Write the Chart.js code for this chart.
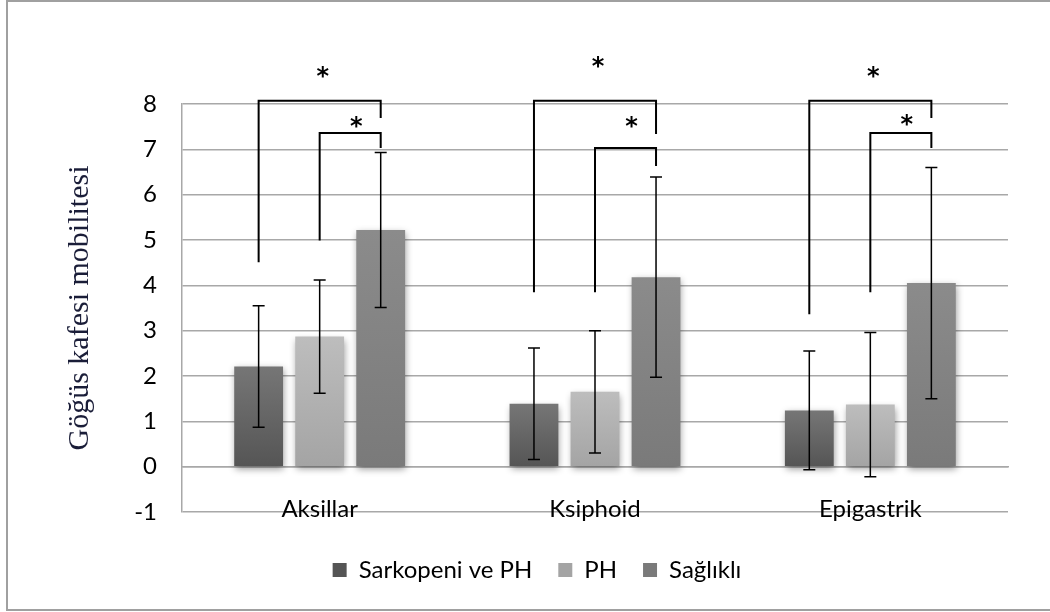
<!DOCTYPE html>
<html><head><meta charset="utf-8">
<script src="https://cdn.jsdelivr.net/npm/chart.js@4.4.1/dist/chart.umd.min.js"></script>
<style>html,body{margin:0;padding:0;background:#fff}canvas{display:block}</style>
</head><body>
<canvas id="c" width="1050" height="612"></canvas>
<script>
const categories = ['Aksillar', 'Ksiphoid', 'Epigastrik'];
const seriesNames = ['Sarkopeni ve PH', 'PH', 'Sağlıklı'];
const sarkopeni = [2.21, 1.39, 1.24];
const ph = [2.87, 1.65, 1.37];
const saglikli = [5.22, 4.18, 4.05];
const sarkopeniErr = [1.34, 1.23, 1.31];
const phErr = [1.25, 1.35, 1.59];
const saglikliErr = [1.71, 2.21, 2.55];
const yMin = -1, yMax = 8, yStep = 1;
const yTitle = 'Göğüs kafesi mobilitesi';
// significance brackets (values on the y scale)
const outerStart = [4.51, 3.85, 3.36];
const outerTop = [8.07, 8.07, 8.07];
const outerEnd = [7.69, 7.34, 7.69];
const outerStar = [8.7, 8.9, 8.68];
const innerStart = [4.99, 3.85, 3.85];
const innerTop = [7.36, 7.03, 7.36];
const innerEnd = [7.03, 6.63, 7.03];
const innerStar = [7.58, 7.58, 7.62];
const starText = '*';

const FONT = 'Lato';
const GRID = '#a8a8a8';

function grad(top, bottom, solid) {
  return (c) => {
    const chart = c.chart;
    const ys = chart.scales && chart.scales.y;
    if (c.type !== 'data' || !ys || !c.parsed) return solid;
    const y0 = ys.getPixelForValue(0), y1 = ys.getPixelForValue(c.parsed.y);
    if (!isFinite(y0) || !isFinite(y1) || y0 === y1) return solid;
    const g = chart.ctx.createLinearGradient(0, y1, 0, y0);
    g.addColorStop(0, top);
    g.addColorStop(1, bottom);
    return g;
  };
}

const frame = {
  id: 'frame',
  beforeDraw(chart) {
    const ctx = chart.ctx;
    ctx.save();
    ctx.fillStyle = '#fff';
    ctx.fillRect(0, 0, chart.width, chart.height);
    ctx.strokeStyle = '#a0a0a0';
    ctx.lineWidth = 2;
    ctx.beginPath();
    ctx.moveTo(chart.width, 1); ctx.lineTo(7, 1); ctx.lineTo(7, 610); ctx.lineTo(chart.width, 610);
    ctx.stroke();
    ctx.restore();
  }
};

const shadow = {
  id: 'shadow',
  beforeDatasetsDraw(chart) {
    const ctx = chart.ctx;
    ctx.save();
    ctx.shadowColor = 'rgba(0,0,0,0.4)';
    ctx.shadowBlur = 7;
    ctx.shadowOffsetX = 1;
    ctx.shadowOffsetY = 3;
  },
  afterDatasetsDraw(chart) {
    chart.ctx.restore();
  }
};

const overlay = {
  id: 'overlay',
  afterDatasetsDraw(chart) {
    const ctx = chart.ctx, ys = chart.scales.y;
    const errs = [sarkopeniErr, phErr, saglikliErr];
    ctx.save();
    ctx.strokeStyle = '#000';
    ctx.lineWidth = 1.5;
    errs.forEach((err, d) => {
      const meta = chart.getDatasetMeta(d);
      meta.data.forEach((bar, i) => {
        const v = chart.data.datasets[d].data[i];
        const x = bar.x;
        const yl = ys.getPixelForValue(v - err[i]);
        const yh = ys.getPixelForValue(v + err[i]);
        ctx.beginPath();
        ctx.moveTo(x, yl); ctx.lineTo(x, yh);
        ctx.moveTo(x - 6, yl); ctx.lineTo(x + 6, yl);
        ctx.moveTo(x - 6, yh); ctx.lineTo(x + 6, yh);
        ctx.stroke();
      });
    });
    const m0 = chart.getDatasetMeta(0).data, m1 = chart.getDatasetMeta(1).data, m2 = chart.getDatasetMeta(2).data;
    ctx.lineWidth = 2;
    ctx.lineJoin = 'miter';
    ctx.fillStyle = '#000';
    ctx.font = 'bold 24px "DejaVu Sans"';
    ctx.textAlign = 'center';
    ctx.textBaseline = 'middle';
    categories.forEach((c, i) => {
      const x0 = m0[i].x, x1 = m1[i].x, x2 = m2[i].x;
      ctx.beginPath();
      ctx.moveTo(x0, ys.getPixelForValue(outerStart[i]));
      ctx.lineTo(x0, ys.getPixelForValue(outerTop[i]));
      ctx.lineTo(x2, ys.getPixelForValue(outerTop[i]));
      ctx.lineTo(x2, ys.getPixelForValue(outerEnd[i]));
      ctx.moveTo(x1, ys.getPixelForValue(innerStart[i]));
      ctx.lineTo(x1, ys.getPixelForValue(innerTop[i]));
      ctx.lineTo(x2, ys.getPixelForValue(innerTop[i]));
      ctx.lineTo(x2, ys.getPixelForValue(innerEnd[i]));
      ctx.stroke();
      ctx.fillText(starText, (x0 + x2) / 2 + 3, ys.getPixelForValue(outerStar[i]) + 5);
      ctx.fillText(starText, (x1 + x2) / 2 + 6, ys.getPixelForValue(innerStar[i]) + 5);
    });
    ctx.restore();
  }
};

new Chart(document.getElementById('c'), {
  type: 'bar',
  data: {
    labels: categories,
    datasets: [
      { label: seriesNames[0], data: sarkopeni, backgroundColor: grad('#767676', '#555555', '#636363') },
      { label: seriesNames[1], data: ph, backgroundColor: grad('#bdbdbd', '#a4a4a4', '#b3b3b3') },
      { label: seriesNames[2], data: saglikli, backgroundColor: grad('#8b8b8b', '#7a7a7a', '#858585') }
    ]
  },
  options: {
    responsive: false,
    animation: false,
    devicePixelRatio: 1,
    categoryPercentage: 0.665,
    barPercentage: 0.8,
    layout: { padding: { left: 66, right: 42, top: 104, bottom: 20 } },
    plugins: {
      tooltip: { enabled: false },
      legend: {
        position: 'bottom',
        title: { display: true, text: '', font: { size: 10, lineHeight: 1.2 }, padding: 4 },
        labels: {
          font: { family: FONT, size: 24 },
          color: '#000',
          boxWidth: 14,
          boxHeight: 14,
          padding: 26
        }
      }
    },
    scales: {
      x: {
        position: { y: 0 },
        grid: { display: false },
        border: { display: true, color: GRID, width: 1.5 },
        ticks: { font: { family: FONT, size: 24 }, color: '#000', padding: 20 }
      },
      y: {
        min: yMin,
        max: yMax,
        afterFit: (scale) => { scale.width = 116; },
        ticks: { stepSize: yStep, font: { family: FONT, size: 24 }, color: '#000', padding: 25 },
        grid: { color: GRID, lineWidth: 1.5, drawTicks: false },
        border: { display: true, color: GRID, width: 1.5 },
        title: {
          display: true,
          text: yTitle,
          font: { family: '"Liberation Serif"', size: 30, lineHeight: 1 },
          color: '#1a1d38',
          padding: { top: -1, bottom: 0 }
        }
      }
    }
  },
  plugins: [frame, shadow, overlay]
});
</script>
</body></html>
